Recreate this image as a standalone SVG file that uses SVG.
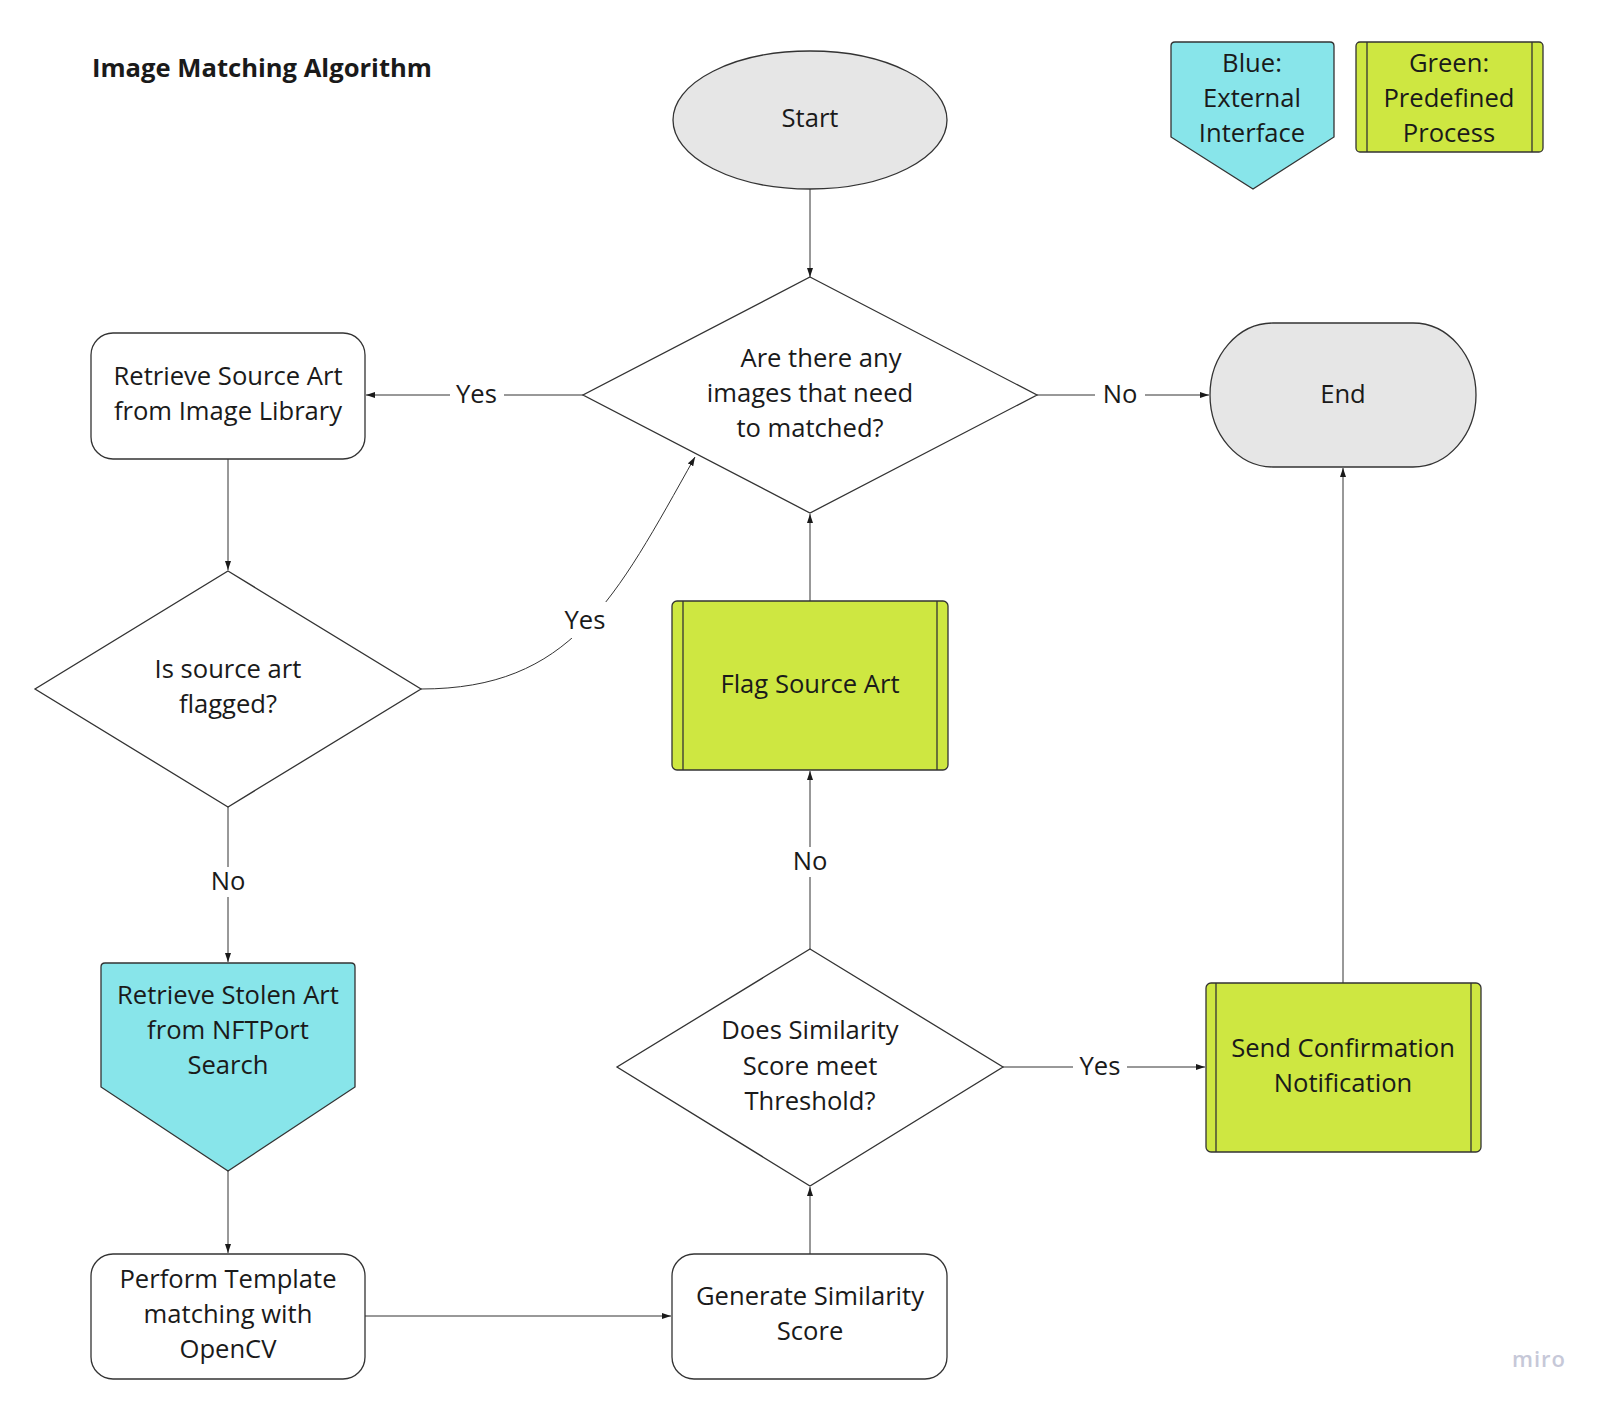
<svg xmlns="http://www.w3.org/2000/svg" width="1601" height="1405" viewBox="0 0 1601 1405">
  <style>
    .t { font-family: "Open Sans", "Liberation Sans", sans-serif; font-size: 25.6px; fill: #1a1a1a; text-anchor: middle; }
    .title { font-family: "Open Sans", "Liberation Sans", sans-serif; font-size: 25.6px; font-weight: 700; fill: #1a1a1a; }
    .shape { stroke: #333333; stroke-width: 1.3; }
    .white { fill: #ffffff; }
    .grey { fill: #e6e6e6; }
    .blue { fill: #88e5ea; }
    .green { fill: #cee741; }
    .conn { fill: none; stroke: #333333; stroke-width: 1; marker-end: url(#arrow); }
    .lblbg { fill: #ffffff; }
    .miro { font-family: "Open Sans", "Liberation Sans", sans-serif; font-size: 22px; font-weight: 600; fill: #c6c8d8; letter-spacing: 1px; }
  </style>
  <defs>
    <marker id="arrow" markerUnits="userSpaceOnUse" markerWidth="10" markerHeight="8" refX="9" refY="3" orient="auto">
      <path d="M0,0 L9,3 L0,6 z" fill="#1a1a1a"/>
    </marker>
  </defs>
  <rect width="1601" height="1405" fill="#ffffff"/>

  <text class="title" x="92" y="77">Image Matching Algorithm</text>

  <g id="connectors">
    <path class="conn" d="M810,189 L810,277"/>
    <path class="conn" d="M583,395 L366,395"/>
    <path class="conn" d="M1037,395 L1209,395"/>
    <path class="conn" d="M228,459 L228,570"/>
    <path class="conn" d="M421,689 C571,689 615,599.5 695,457"/>
    <path class="conn" d="M228,807 L228,962"/>
    <path class="conn" d="M228,1171 L228,1253"/>
    <path class="conn" d="M365,1316 L671,1316"/>
    <path class="conn" d="M810,1254 L810,1187"/>
    <path class="conn" d="M810,949 L810,771"/>
    <path class="conn" d="M810,601 L810,514"/>
    <path class="conn" d="M1003,1067 L1205,1067"/>
    <path class="conn" d="M1343,983 L1343,468"/>
    <!-- labels -->
    <rect class="lblbg" x="450" y="380" width="54" height="30"/>
    <text class="t" x="476.5" y="403">Yes</text>
    <rect class="lblbg" x="1095" y="380" width="50" height="30"/>
    <text class="t" x="1120" y="403">No</text>
    <rect class="lblbg" x="562" y="602" width="46" height="36"/>
    <text class="t" x="585" y="629">Yes</text>
    <rect class="lblbg" x="205" y="867" width="46" height="30"/>
    <text class="t" x="228" y="890">No</text>
    <rect class="lblbg" x="787" y="847" width="46" height="30"/>
    <text class="t" x="810" y="870">No</text>
    <rect class="lblbg" x="1073" y="1052" width="54" height="30"/>
    <text class="t" x="1100" y="1075">Yes</text>
  </g>

  <g id="start">
    <ellipse class="shape grey" cx="810" cy="120" rx="137" ry="69"/>
    <text class="t" x="810" y="127">Start</text>
  </g>

  <g id="decision-images">
    <polygon class="shape white" points="810,277 1037,395 810,513 583,395"/>
    <text class="t" x="821" y="367">Are there any</text>
    <text class="t" x="810" y="402">images that need</text>
    <text class="t" x="810" y="437">to matched?</text>
  </g>

  <g id="end">
    <rect class="shape grey" x="1210" y="323" width="266" height="144" rx="63" ry="72"/>
    <text class="t" x="1343" y="403">End</text>
  </g>

  <g id="legend-blue">
    <path class="shape blue" d="M1175,42 L1330,42 Q1334,42 1334,46 L1334,137 L1253,189 L1171,137 L1171,46 Q1171,42 1175,42 Z"/>
    <text class="t" x="1252" y="72">Blue:</text>
    <text class="t" x="1252" y="107">External</text>
    <text class="t" x="1252" y="142">Interface</text>
  </g>

  <g id="legend-green">
    <rect class="shape green" x="1356" y="42" width="187" height="110" rx="4"/>
    <line class="shape" x1="1367" y1="42" x2="1367" y2="152"/>
    <line class="shape" x1="1532" y1="42" x2="1532" y2="152"/>
    <text class="t" x="1449" y="72">Green:</text>
    <text class="t" x="1449" y="107">Predefined</text>
    <text class="t" x="1449" y="142">Process</text>
  </g>

  <g id="retrieve-source">
    <rect class="shape white" x="91" y="333" width="274" height="126" rx="22"/>
    <text class="t" x="228" y="385">Retrieve Source Art</text>
    <text class="t" x="228" y="420">from Image Library</text>
  </g>

  <g id="decision-flagged">
    <polygon class="shape white" points="228,571 421,689 228,807 35,689"/>
    <text class="t" x="228" y="678">Is source art</text>
    <text class="t" x="228" y="713">flagged?</text>
  </g>

  <g id="flag-source">
    <rect class="shape green" x="672" y="601" width="276" height="169" rx="5"/>
    <line class="shape" x1="683" y1="601" x2="683" y2="770"/>
    <line class="shape" x1="937" y1="601" x2="937" y2="770"/>
    <text class="t" x="810" y="693">Flag Source Art</text>
  </g>

  <g id="retrieve-stolen">
    <path class="shape blue" d="M105,963 L351,963 Q355,963 355,967 L355,1087 L228,1171 L101,1087 L101,967 Q101,963 105,963 Z"/>
    <text class="t" x="228" y="1004">Retrieve Stolen Art</text>
    <text class="t" x="228" y="1039">from NFTPort</text>
    <text class="t" x="228" y="1074">Search</text>
  </g>

  <g id="decision-threshold">
    <polygon class="shape white" points="810,949 1003,1067 810,1186 617,1067"/>
    <text class="t" x="810" y="1039">Does Similarity</text>
    <text class="t" x="810" y="1075">Score meet</text>
    <text class="t" x="810" y="1110">Threshold?</text>
  </g>

  <g id="send-confirmation">
    <rect class="shape green" x="1206" y="983" width="275" height="169" rx="5"/>
    <line class="shape" x1="1216" y1="983" x2="1216" y2="1152"/>
    <line class="shape" x1="1471" y1="983" x2="1471" y2="1152"/>
    <text class="t" x="1343" y="1057">Send Confirmation</text>
    <text class="t" x="1343" y="1092">Notification</text>
  </g>

  <g id="perform-template">
    <rect class="shape white" x="91" y="1254" width="274" height="125" rx="22"/>
    <text class="t" x="228" y="1288">Perform Template</text>
    <text class="t" x="228" y="1323">matching with</text>
    <text class="t" x="228" y="1358">OpenCV</text>
  </g>

  <g id="generate-score">
    <rect class="shape white" x="672" y="1254" width="275" height="125" rx="22"/>
    <text class="t" x="810" y="1305">Generate Similarity</text>
    <text class="t" x="810" y="1340">Score</text>
  </g>

  <text class="miro" x="1539" y="1367" text-anchor="middle">miro</text>
</svg>
